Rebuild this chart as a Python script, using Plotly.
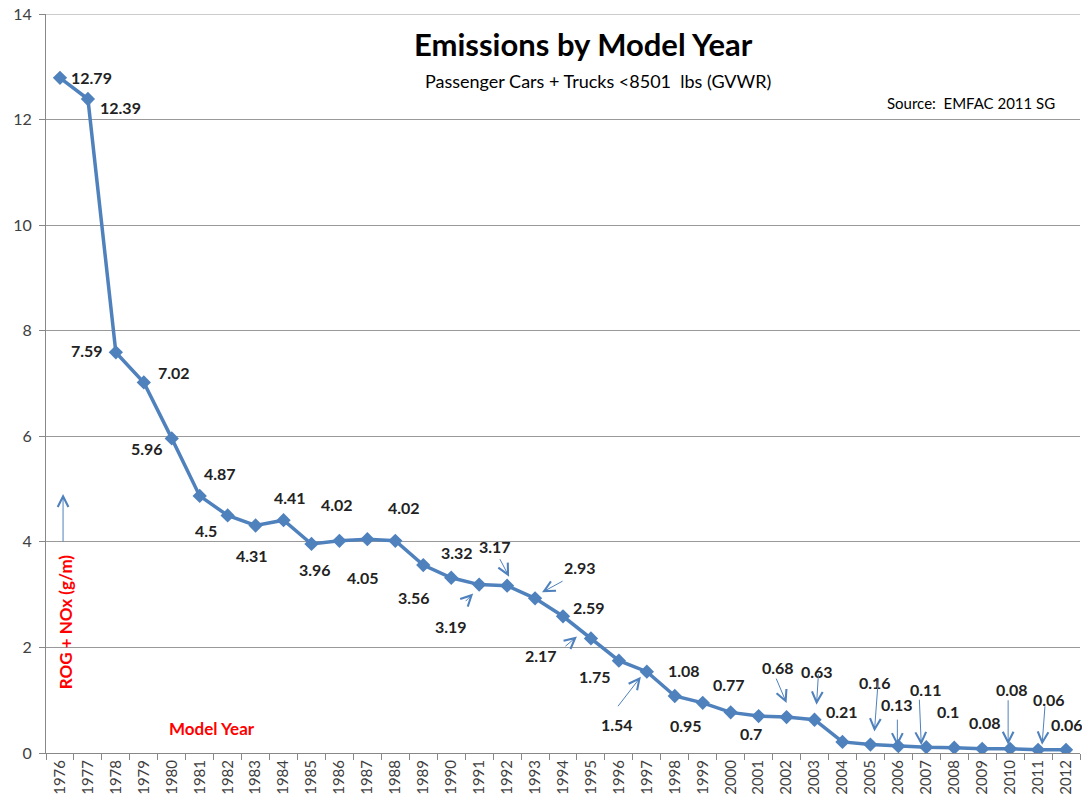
import plotly.graph_objects as go

# ---- data ----
years = [str(y) for y in range(1976, 2013)]
emissions = [12.79, 12.39, 7.59, 7.02, 5.96, 4.87, 4.5, 4.31, 4.41, 3.96,
             4.02, 4.05, 4.02, 3.56, 3.32, 3.19, 3.17, 2.93, 2.59, 2.17,
             1.75, 1.54, 1.08, 0.95, 0.77, 0.7, 0.68, 0.63, 0.21, 0.16,
             0.13, 0.11, 0.1, 0.08, 0.08, 0.06, 0.06]
y_ticks = [0, 2, 4, 6, 8, 10, 12, 14]

title_text = "Emissions by Model Year"
subtitle_text = "Passenger Cars + Trucks &lt;8501  lbs (GVWR)"
source_text = "Source:  EMFAC 2011 SG"

# ---- styling: label offsets (pixels, dx right, dy down) ----
label_offsets = [(32, 0), (33, 9), (-29, -2), (30, -10), (-25, 10), (20, -22),
                 (-22, 15), (-4, 30), (6, -23), (4, 26), (-2, -36), (-4, 38),
                 (9, -33), (-9, 32), (6, -25), (-28, 42), (-12, -39), (45, -31),
                 (26, -9), (-50, 17), (-24, 16), (-30, 53), (9, -25), (-17, 23),
                 (-2, -28), (-8, 17), (-9, -50), (2, -48), (0, -30), (5, -62),
                 (-1, -42), (0, -58), (-6, -36), (3, -26), (2, -59), (11, -50),
                 (1, -25)]
# arrows: index -> (tip dx, tip dy, tail-from-tip ax, ay)
arrows = {15: (-6, 9, -9, 9), 16: (2, -9, -10, -19), 17: (7, -6, 22, -12),
          19: (-14, -2, -13, 11), 21: (-6, 5, -24, 31), 26: (0, -14, -11, -26),
          27: (2, -15, 2, -32), 29: (4, -13, 4, -54), 30: (-1, 0, 0, -28),
          31: (-5, -2, -2, -47), 34: (-2, -4, 0, -46), 35: (4, -5, 3, -40)}

line_color = "#4F81BD"
grid_color = "#999999"
font_family = "Lato, 'Noto Sans', sans-serif"

fig = go.Figure()
fig.add_trace(go.Scatter(
    x=years, y=emissions, mode="lines+markers",
    line=dict(color=line_color, width=3.5),
    marker=dict(symbol="diamond", size=11, color=line_color),
    hoverinfo="x+y", showlegend=False))

annotations = []
for i, v in enumerate(emissions):
    dx, dy = label_offsets[i]
    annotations.append(dict(
        x=i, y=v, xref="x", yref="y", text=f"<b>{v:g}</b>", showarrow=False,
        xshift=dx, yshift=-dy, xanchor="center", yanchor="middle",
        font=dict(family=font_family, size=16, color="#222222")))
    if i in arrows:
        tdx, tdy, ax, ay = arrows[i]
        annotations.append(dict(
            x=i, y=v, xref="x", yref="y", text="", showarrow=True,
            xshift=tdx, yshift=-tdy, ax=ax, ay=ay,
            arrowhead=5, arrowsize=2.1, arrowwidth=1, arrowcolor=line_color,
            standoff=0, startstandoff=0))

# axis-title annotations (red) and up arrow
annotations.append(dict(x=0.0184, y=0.177, xref="paper", yref="paper",
                        text="<b>ROG + NOx (g/m)</b>", textangle=-90,
                        showarrow=False, xanchor="center", yanchor="middle",
                        font=dict(family=font_family, size=17, color="#FF0000")))
annotations.append(dict(x=0.0165, y=(753 - 494) / 739, xref="paper", yref="paper",
                        text="", showarrow=True, ax=0, ay=49,
                        arrowhead=5, arrowsize=2.1, arrowwidth=1,
                        arrowcolor=line_color, standoff=0))
annotations.append(dict(x=0.1605, y=0.0325, xref="paper", yref="paper",
                        text="<b>Model Year</b>", showarrow=False,
                        xanchor="center", yanchor="middle",
                        font=dict(family=font_family, size=17, color="#FF0000")))
annotations.append(dict(x=0.520, y=0.959, xref="paper", yref="paper",
                        text=f"<b>{title_text}</b>", showarrow=False,
                        xanchor="center", yanchor="middle",
                        font=dict(family=font_family, size=31, color="#000000")))
annotations.append(dict(x=0.534, y=0.9093, xref="paper", yref="paper",
                        text=subtitle_text, showarrow=False,
                        xanchor="center", yanchor="middle",
                        font=dict(family=font_family, size=18, color="#000000")))
annotations.append(dict(x=0.8946, y=0.879, xref="paper", yref="paper",
                        text=source_text, showarrow=False,
                        xanchor="center", yanchor="middle",
                        font=dict(family=font_family, size=15, color="#000000")))

fig.update_layout(
    width=1082, height=804,
    margin=dict(l=46, r=2, t=14, b=51, autoexpand=False),
    paper_bgcolor="white", plot_bgcolor="white",
    annotations=annotations,
    # top gridline (plotly drops gridlines lying on the plot edge)
    shapes=[dict(type="line", xref="paper", yref="y", x0=0, x1=1,
                 y0=y_ticks[-1], y1=y_ticks[-1],
                 line=dict(color=grid_color, width=1), layer="below")],
    xaxis=dict(type="category", range=[-0.5, 36.5], tickson="boundaries",
               ticks="outside", ticklen=6, tickcolor="#888888",
               showline=True, linecolor="#888888", linewidth=1,
               showgrid=False, tickangle=-90, automargin=False,
               ticklabeloverflow="allow",
               tickfont=dict(family=font_family, size=15, color="#404040")),
    yaxis=dict(range=[0, 14], tickvals=y_ticks, ticks="outside", ticklen=6,
               tickcolor="#888888", showline=True, linecolor="#888888",
               linewidth=1, showgrid=True, gridcolor=grid_color, gridwidth=1,
               zeroline=False, automargin=False, ticklabeloverflow="allow",
               ticklabelstandoff=4,
               tickfont=dict(family=font_family, size=16, color="#404040")),
)

# remove the page's default 8px body margin so the figure fills the window
fig.write_html("out.html", config={"displayModeBar": False},
               post_script="document.body.style.margin='0';")
